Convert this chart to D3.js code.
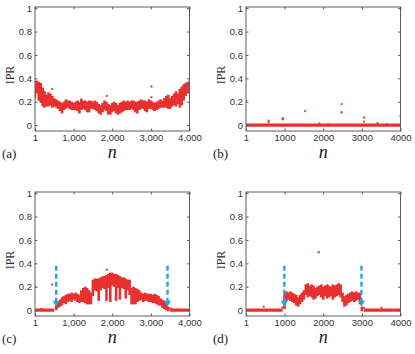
<!DOCTYPE html>
<html>
<head>
<meta charset="utf-8">
<script src="https://cdn.jsdelivr.net/npm/d3@7"></script>
<style>
  body { margin: 0; background: #fff; }
  .tick text { font-family: "Liberation Sans", Arial, sans-serif; font-size: 9.5px; fill: #333; }
  .tick line { stroke: #55625a; }
</style>
</head>
<body>
<script>
// ---- data ----
var xTicks = [1, 1000, 2000, 3000, 4000];
var yTicks = [0, 0.2, 0.4, 0.6, 0.8, 1];

// bands: [n, low, high] of the dense cloud of points
var bandA = [
  [0,.24,.37],[50,.28,.37],[100,.22,.36],[150,.20,.35],[200,.17,.31],[250,.16,.28],[300,.17,.25],[350,.17,.27],
  [400,.18,.26],[450,.16,.24],[500,.17,.22],[550,.16,.21],[600,.15,.20],[650,.13,.19],[700,.11,.18],[750,.14,.19],
  [800,.15,.21],[850,.16,.20],[900,.15,.20],[950,.14,.19],[1000,.14,.18],[1050,.14,.19],[1100,.13,.20],[1150,.11,.19],
  [1200,.14,.21],[1250,.15,.20],[1300,.14,.20],[1350,.12,.19],[1400,.12,.20],[1450,.15,.20],[1500,.15,.19],[1550,.14,.20],
  [1600,.13,.19],[1650,.11,.17],[1700,.10,.16],[1750,.12,.18],[1800,.14,.20],[1850,.13,.19],[1900,.10,.17],[1950,.10,.16],
  [2000,.12,.18],[2050,.13,.19],[2100,.11,.18],[2150,.10,.16],[2200,.11,.18],[2250,.12,.19],[2300,.13,.20],[2350,.14,.19],
  [2400,.14,.20],[2450,.14,.19],[2500,.15,.20],[2550,.14,.20],[2600,.12,.19],[2650,.11,.19],[2700,.14,.20],[2750,.15,.21],
  [2800,.15,.20],[2850,.13,.20],[2900,.12,.19],[2950,.15,.21],[3000,.15,.20],[3050,.14,.19],[3100,.13,.18],[3150,.14,.19],
  [3200,.15,.20],[3250,.16,.21],[3300,.16,.20],[3350,.16,.22],[3400,.16,.24],[3450,.15,.25],[3500,.15,.22],[3550,.17,.24],
  [3600,.18,.26],[3650,.17,.28],[3700,.19,.26],[3750,.16,.30],[3800,.18,.32],[3850,.22,.34],[3900,.26,.35],[3950,.28,.36],
  [4000,.30,.37]
];
var bandB = [[0,0,0],[4000,0,0]];
var bandC = [
  [0,0,0],[500,0,0],[550,.01,.04],[600,.03,.06],[650,.04,.08],[700,.05,.10],[750,.07,.11],[800,.06,.12],[850,.08,.13],
  [900,.09,.13],[950,.08,.14],[1000,.10,.13],[1050,.09,.14],[1100,.08,.13],[1150,.07,.12],[1200,.08,.16],[1250,.08,.18],
  [1300,.07,.19],[1350,.06,.18],[1400,.06,.16],[1450,.06,.14],[1500,.13,.25],[1550,.18,.26],[1600,.17,.26],[1650,.09,.26],
  [1700,.18,.27],[1750,.20,.28],[1800,.19,.28],[1850,.09,.29],[1900,.20,.30],[1950,.08,.31],[2000,.22,.31],[2050,.21,.30],
  [2100,.09,.30],[2150,.20,.29],[2200,.10,.28],[2250,.20,.27],[2300,.19,.27],[2350,.11,.26],[2400,.18,.25],[2450,.14,.25],
  [2500,.06,.18],[2550,.06,.19],[2600,.06,.18],[2650,.08,.17],[2700,.09,.16],[2750,.10,.14],[2800,.08,.13],[2850,.09,.14],
  [2900,.09,.13],[2950,.08,.13],[3000,.08,.13],[3050,.07,.12],[3100,.07,.13],[3150,.06,.12],[3200,.05,.11],[3250,.05,.09],
  [3300,.03,.08],[3350,.02,.07],[3400,.01,.05],[3450,0,.02],[3500,0,0],[4000,0,0]
];
var bandD = [
  [0,0,0],[950,0,0],[1000,.02,.14],[1050,.09,.15],[1100,.10,.14],[1150,.09,.15],[1200,.08,.14],[1250,.07,.13],
  [1300,.05,.12],[1350,.04,.10],[1400,.06,.12],[1450,.08,.14],[1500,.10,.16],[1550,.14,.21],[1600,.12,.22],[1650,.13,.20],
  [1700,.12,.21],[1750,.10,.20],[1800,.11,.18],[1850,.13,.19],[1900,.14,.20],[1950,.12,.21],[2000,.10,.19],[2050,.13,.20],
  [2100,.11,.21],[2150,.12,.20],[2200,.13,.19],[2250,.10,.21],[2300,.12,.20],[2350,.13,.21],[2400,.14,.22],[2450,.12,.21],
  [2500,.08,.14],[2550,.04,.11],[2600,.05,.12],[2650,.07,.13],[2700,.08,.14],[2750,.09,.15],[2800,.08,.14],[2850,.09,.15],
  [2900,.10,.14],[2950,.06,.14],[3000,0,.02],[3050,0,0],[4000,0,0]
];

// isolated points: [n, IPR]
var outA = [[1,.25],[445,.31],[1200,.22],[1860,.25],[3015,.33],[3015,.24]];
var outB = [[1,.21],[585,.037],[585,.023],[955,.06],[955,.05],[1530,.12],[1900,.015],[2130,.006],
            [2475,.18],[2475,.11],[3060,.065],[3060,.03],[3405,.017],[3640,.006],[4000,.077]];
var outC = [[1,.2],[150,.01],[445,.22],[1860,.345],[3520,.015],[3700,.006]];
var outD = [[460,.03],[950,.025],[1885,.495],[3050,.02],[3510,.02]];

// dashed arrows: n position, arrow runs from arrowFrom down to arrowTo
var arrowsC = [550, 3430];
var arrowsD = [995, 2990];
var arrowFrom = 0.38, arrowTo = 0.03;

var panels = [
  {tag: "(a)", band: bandA, out: outA, arrows: [], comma: true,  x0: 35,  x1: 189.5, y0: 7,   y1: 131},
  {tag: "(b)", band: bandB, out: outB, arrows: [], comma: false, x0: 246, x1: 400.5, y0: 7,   y1: 131},
  {tag: "(c)", band: bandC, out: outC, arrows: arrowsC, comma: true,  x0: 35,  x1: 189.5, y0: 192, y1: 316},
  {tag: "(d)", band: bandD, out: outD, arrows: arrowsD, comma: false, x0: 246, x1: 400.5, y0: 192, y1: 316}
];

var red = "#e8302f", blue = "#27a2da", boxCol = "#55625a";

var svg = d3.select("body").append("svg").attr("width", 415).attr("height", 354);

panels.forEach(function (p) {
  var x = d3.scaleLinear().domain([1, 4000]).range([p.x0, p.x1]);
  var y = d3.scaleLinear().domain([-0.05, 1.01]).range([p.y1, p.y0]);
  var g = svg.append("g");
  var fmt = p.comma ? d3.format(",") : d3.format("d");

  // clip to the box
  var cid = "clip" + p.tag.replace(/\W/g, "");
  svg.append("clipPath").attr("id", cid).append("rect")
    .attr("x", p.x0).attr("y", p.y0).attr("width", p.x1 - p.x0).attr("height", p.y1 - p.y0);
  var plot = g.append("g").attr("clip-path", "url(#" + cid + ")");

  // zero line (flat part of the spectrum)
  var flat = [];
  for (var i = 0; i < p.band.length - 1; i++) {
    if (p.band[i][2] === 0 && p.band[i + 1][2] === 0) flat.push([p.band[i][0], p.band[i + 1][0]]);
  }
  plot.selectAll("line.flat").data(flat).enter().append("line")
    .attr("x1", function (d) { return x(d[0]); })
    .attr("x2", function (d) { return x(d[1]); })
    .attr("y1", y(0)).attr("y2", y(0))
    .attr("stroke", red).attr("stroke-width", 3.2);

  // dense cloud
  plot.selectAll("rect.band").data(p.band.filter(function (d) { return d[2] > 0; })).enter().append("rect")
    .attr("x", function (d) { return x(d[0]) - 1.3; })
    .attr("width", 2.6)
    .attr("y", function (d) { return y(d[2]) - 1.2; })
    .attr("height", function (d) { return y(d[1]) - y(d[2]) + 2.4; })
    .attr("fill", red);

  // isolated points
  plot.selectAll("circle.out").data(p.out).enter().append("circle")
    .attr("cx", function (d) { return x(d[0]); })
    .attr("cy", function (d) { return y(d[1]); })
    .attr("r", 1.2)
    .attr("fill", red).attr("opacity", 0.85);

  // arrows
  p.arrows.forEach(function (n) {
    var ax = x(n);
    g.append("line")
      .attr("x1", ax).attr("x2", ax)
      .attr("y1", y(arrowFrom)).attr("y2", y(arrowTo) - 4)
      .attr("stroke", blue).attr("stroke-width", 2.4).attr("stroke-dasharray", "5,3");
    g.append("path")
      .attr("d", "M" + (ax - 3.5) + "," + (y(arrowTo) - 6) + "L" + (ax + 3.5) + "," + (y(arrowTo) - 6) +
                 "L" + ax + "," + y(arrowTo) + "Z")
      .attr("fill", blue);
  });

  // axes with inward ticks
  g.append("g").attr("transform", "translate(0," + p.y1 + ")")
    .call(d3.axisBottom(x).tickValues(xTicks).tickFormat(fmt).tickSizeInner(-2.5).tickSizeOuter(0).tickPadding(3))
    .call(function (s) { s.select(".domain").remove(); });
  g.append("g").attr("transform", "translate(" + p.x0 + ",0)")
    .call(d3.axisLeft(y).tickValues(yTicks).tickFormat(d3.format("")).tickSizeInner(-2.5).tickSizeOuter(0).tickPadding(3))
    .call(function (s) { s.select(".domain").remove(); });
  g.append("g").attr("transform", "translate(0," + p.y0 + ")")
    .call(d3.axisTop(x).tickValues(xTicks).tickFormat("").tickSizeInner(-2.5).tickSizeOuter(0))
    .call(function (s) { s.select(".domain").remove(); });
  g.append("g").attr("transform", "translate(" + p.x1 + ",0)")
    .call(d3.axisRight(y).tickValues(yTicks).tickFormat("").tickSizeInner(-2.5).tickSizeOuter(0))
    .call(function (s) { s.select(".domain").remove(); });

  g.append("rect")
    .attr("x", p.x0).attr("y", p.y0).attr("width", p.x1 - p.x0).attr("height", p.y1 - p.y0)
    .attr("fill", "none").attr("stroke", boxCol).attr("stroke-width", 1);

  // labels
  var ly = (p.y0 + p.y1) / 2 + 6;
  g.append("text")
    .attr("transform", "translate(" + (p.x0 - 21) + "," + ly + ") rotate(-90)")
    .attr("text-anchor", "middle")
    .style("font-family", "'Liberation Serif', serif").style("font-size", "12px").style("fill", "#333")
    .text("IPR");
  g.append("text")
    .attr("x", (p.x0 + p.x1) / 2).attr("y", p.y1 + 27)
    .attr("text-anchor", "middle")
    .style("font-family", "'Liberation Serif', serif").style("font-style", "italic")
    .style("font-size", "18px").style("fill", "#222")
    .text("n");
  g.append("text")
    .attr("x", p.x0 - 33).attr("y", p.y1 + 27)
    .style("font-family", "'Liberation Serif', serif").style("font-size", "13px").style("fill", "#222")
    .text(p.tag);
});
</script>
</body>
</html>
